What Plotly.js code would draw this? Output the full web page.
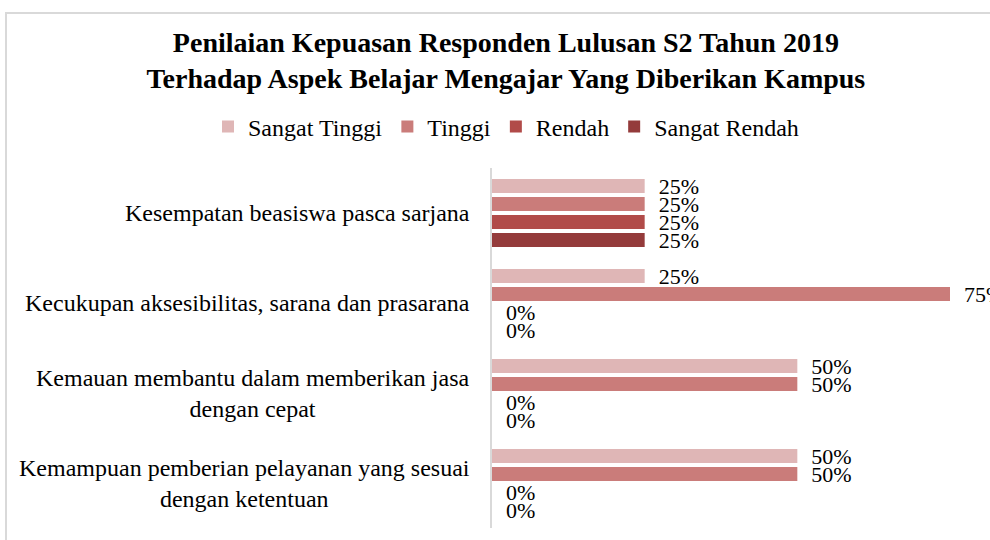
<!DOCTYPE html>
<html>
<head>
<meta charset="utf-8">
<script src="https://cdn.plot.ly/plotly-3.0.1.min.js"></script>
<style>
  html, body { margin: 0; padding: 0; background: #fff; }
  #wrap { position: relative; width: 990px; height: 540px; overflow: hidden; }
  #chart { position: absolute; left: 0; top: 0; width: 990px; height: 540px; }
  #frame { position: absolute; left: 5px; top: 12px; width: 1100px; height: 700px;
           border: 2px solid #d9d9d9; pointer-events: none; }
</style>
</head>
<body>
<div id="wrap">
  <div id="chart"></div>
  <div id="frame"></div>
</div>
<script>
const categories = [
  "Kesempatan beasiswa pasca sarjana",
  "Kecukupan aksesibilitas, sarana dan prasarana",
  "Kemauan membantu dalam memberikan jasa<br>dengan cepat",
  "Kemampuan pemberian pelayanan yang sesuai<br>dengan ketentuan"
];
const seriesNames = ["Sangat Tinggi", "Tinggi", "Rendah", "Sangat Rendah"];
const sangatTinggi = [0.25, 0.25, 0.50, 0.50];
const tinggi       = [0.25, 0.75, 0.50, 0.50];
const rendah       = [0.25, 0.00, 0.00, 0.00];
const sangatRendah = [0.25, 0.00, 0.00, 0.00];
const colors = ["#dfb6b6", "#ca7c7a", "#b14b49", "#943b3b"];

const seriesValues = [sangatTinggi, tinggi, rendah, sangatRendah];
const FONT = "'Liberation Serif', 'Times New Roman', Times, serif";

const traces = seriesValues.map((vals, i) => ({
  type: 'bar',
  orientation: 'h',
  name: seriesNames[i],
  y: categories,
  x: vals,
  marker: { color: colors[i], line: { width: 0 } },
  texttemplate: '\u00a0\u00a0%{x:.0%}',
  textposition: 'outside',
  constraintext: 'none',
  cliponaxis: false,
  textfont: { family: FONT, size: 22, color: '#000' },
  hoverinfo: 'skip'
}));

const annotations = categories.map(c => ({
  xref: 'paper', yref: 'y', x: 0, y: c,
  xanchor: 'right', yanchor: 'middle', xshift: -20,
  align: 'center', showarrow: false, text: c,
  font: { family: FONT, size: 24, color: '#000' }
}));

const layout = {
  width: 990, height: 540,
  margin: { l: 492, r: 0, t: 168, b: 12 },
  paper_bgcolor: '#fff', plot_bgcolor: '#fff',
  barmode: 'group',
  bargap: 0.2,
  bargroupgap: 0.22,
  title: {
    text: '<b>Penilaian Kepuasan Responden Lulusan S2 Tahun 2019<br>Terhadap Aspek Belajar Mengajar Yang Diberikan Kampus</b>',
    x: 0.511, xanchor: 'center',
    y: 1 - 52 / 540, yanchor: 'top', yref: 'container',
    font: { family: FONT, size: 28, color: '#000' }
  },
  showlegend: true,
  legend: {
    orientation: 'h',
    xref: 'paper', yref: 'paper',
    x: (208 - 492) / 498, xanchor: 'left',
    y: (528 - 127) / 360, yanchor: 'middle',
    font: { family: FONT, size: 24, color: '#000' },
    traceorder: 'normal',
    itemclick: false
  },
  xaxis: {
    range: [0, 498 / (458 / 0.75)],
    showgrid: false, zeroline: false, showline: false,
    showticklabels: false, ticks: ''
  },
  yaxis: {
    type: 'category',
    autorange: 'reversed',
    showgrid: false, zeroline: false,
    showline: true, linecolor: '#d9d9d9', linewidth: 2,
    showticklabels: false, ticks: ''
  },
  annotations: annotations
};

Plotly.newPlot('chart', traces, layout, { displayModeBar: false, staticPlot: true });
</script>
</body>
</html>
